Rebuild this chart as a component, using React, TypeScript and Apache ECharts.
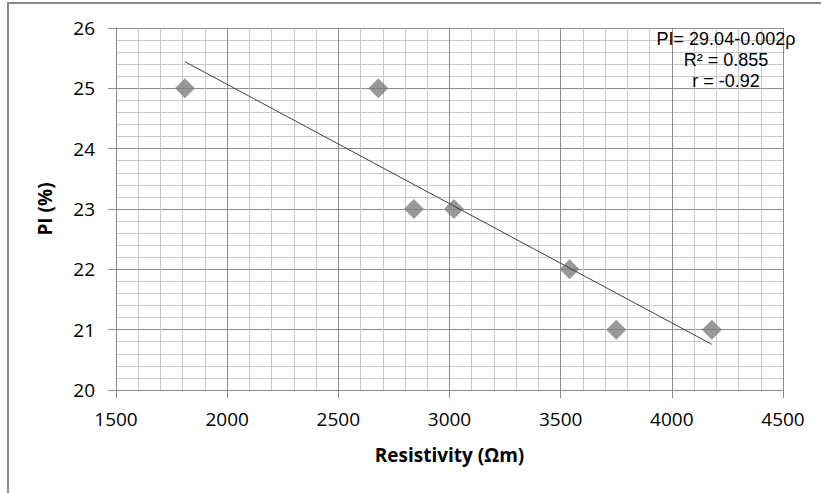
import React, { useEffect, useRef } from "react";
import * as echarts from "echarts";

const resistivity = [1810, 2680, 2840, 3020, 3540, 3750, 4180];
const plasticityIndex = [25, 25, 23, 23, 22, 21, 21];
const annotationLines = ["PI= 29.04-0.002ρ", "R² = 0.855", "r = -0.92"];
const xTitle = "Resistivity (Ωm)";
const yTitle = "PI (%)";

function regression(xs: number[], ys: number[]) {
  const n = xs.length;
  const mx = xs.reduce((a, b) => a + b, 0) / n;
  const my = ys.reduce((a, b) => a + b, 0) / n;
  let sxy = 0;
  let sxx = 0;
  for (let i = 0; i < n; i++) {
    sxy += (xs[i] - mx) * (ys[i] - my);
    sxx += (xs[i] - mx) * (xs[i] - mx);
  }
  const slope = sxy / sxx;
  return { slope, intercept: my - slope * mx };
}

export default function App() {
  const ref = useRef<HTMLDivElement>(null);
  useEffect(() => {
    if (!ref.current) return;
    const chart = echarts.init(ref.current, null, { renderer: "svg" });
    const { slope, intercept } = regression(resistivity, plasticityIndex);
    const xMin = Math.min(...resistivity);
    const xMax = Math.max(...resistivity);
    const trend = [
      [xMin, intercept + slope * xMin],
      [xMax, intercept + slope * xMax],
    ];
    const font = "'Open Sans', 'Noto Sans', sans-serif";
    const noteFont = "'Liberation Sans', Arial, sans-serif";
    const major = "#8c8c8c";
    const minor = "#c8c8c8";
    chart.setOption({
      animation: false,
      backgroundColor: "#ffffff",
      textStyle: { fontFamily: font },
      grid: { left: 116, top: 28, width: 667, height: 362 },
      xAxis: {
        type: "value",
        min: 1500,
        max: 4500,
        interval: 500,
        name: xTitle,
        nameLocation: "middle",
        nameGap: 55,
        nameTextStyle: { fontFamily: font, fontSize: 19, fontWeight: "bold", color: "#000" },
        axisLine: { show: true, lineStyle: { color: major, width: 1 } },
        axisTick: { show: true, length: 8, lineStyle: { color: major } },
        axisLabel: {
          fontFamily: font,
          fontSize: 19,
          color: "#000",
          margin: 19,
          formatter: (v: number) => String(v),
        },
        splitLine: { show: true, lineStyle: { color: major, width: 1 } },
        minorTick: { show: false, splitNumber: 5 },
        minorSplitLine: { show: true, lineStyle: { color: minor, width: 1 } },
      },
      yAxis: {
        type: "value",
        min: 20,
        max: 26,
        interval: 1,
        name: yTitle,
        nameLocation: "middle",
        nameGap: 62,
        nameRotate: 90,
        nameTextStyle: { fontFamily: font, fontSize: 19, fontWeight: "bold", color: "#000" },
        axisLine: { show: true, lineStyle: { color: major, width: 1 } },
        axisTick: { show: true, length: 8, lineStyle: { color: major } },
        axisLabel: {
          fontFamily: font,
          fontSize: 19,
          color: "#000",
          margin: 21,
          formatter: (v: number) => String(v),
        },
        splitLine: { show: true, lineStyle: { color: major, width: 1 } },
        minorTick: { show: false, splitNumber: 5 },
        minorSplitLine: { show: true, lineStyle: { color: minor, width: 1 } },
      },
      series: [
        {
          type: "scatter",
          data: resistivity.map((x, i) => [x, plasticityIndex[i]]),
          symbol: "diamond",
          symbolSize: 20,
          itemStyle: { color: "#7f7f7f" },
          z: 3,
        },
        {
          type: "line",
          data: trend,
          showSymbol: false,
          symbol: "none",
          lineStyle: { color: "#404040", width: 1 },
          z: 4,
        },
      ],
      graphic: [
        {
          type: "rect",
          shape: { x: 8, y: 3, width: 830, height: 520 },
          style: { fill: "none", stroke: "#8a8a8a", lineWidth: 2 },
          silent: true,
        },
        ...annotationLines.map((t, i) => ({
          type: "text",
          x: 726,
          y: 39 + i * 21,
          style: {
            text: t,
            fontFamily: noteFont,
            fontSize: 18,
            lineHeight: 20,
            fill: "#000",
            textAlign: "center",
            textVerticalAlign: "middle",
          },
          z: 10,
        })),
      ],
    });
    return () => chart.dispose();
  }, []);
  return (
    <div
      ref={ref}
      style={{ position: "fixed", left: 0, top: 0, width: 821, height: 493, background: "#fff" }}
    />
  );
}
